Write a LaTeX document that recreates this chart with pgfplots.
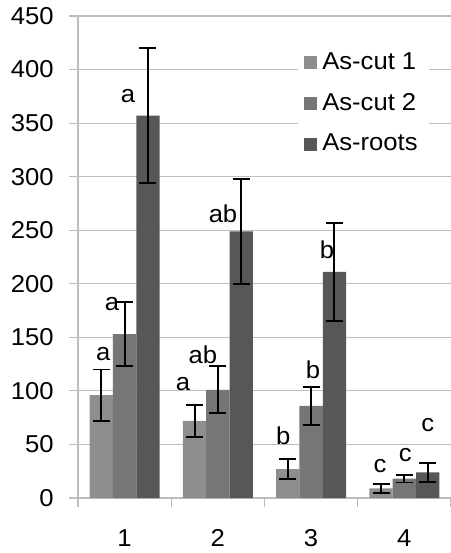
\documentclass[border=0pt]{standalone}
\usepackage{fontspec}
\setmainfont[FakeStretch=1.05]{Liberation Sans}
\usepackage{pgfplots}
\pgfplotsset{compat=1.18}
\usepackage{pgfplotstable}
\definecolor{cA}{HTML}{8E8E8E}
\definecolor{cB}{HTML}{767676}
\definecolor{cC}{HTML}{575757}
\definecolor{gridc}{HTML}{BDBDBD}
\pgfplotstableread{
x y e
1 96 24
2 72 15
3 27 9
4 9 4
}\cutA
\pgfplotstableread{
x y e
1 153 30
2 101 22
3 86 18
4 18 3.5
}\cutB
\pgfplotstableread{
x y e
1 357 63
2 249 49
3 211 46
4 24 9
}\roots
\begin{document}
\fontsize{24.5}{29}\selectfont
\begin{tikzpicture}[font=\fontsize{24.5}{29}\selectfont]
\begin{axis}[
  scale only axis,
  width=373bp, height=482bp,
  xmin=0.5, xmax=4.5, ymin=0, ymax=450,
  ytick={0,50,...,450},
  xtick={0.5,1.5,2.5,3.5,4.5}, xticklabels={},
  extra x ticks={1,2,3,4}, extra x tick labels={1,2,3,4},
  extra x tick style={major tick length=0pt, tick label style={yshift=-23bp}},
  major tick length=9bp, tick align=outside,
  tick style={gridc, line width=1.2bp},
  axis x line*=bottom, axis y line*=left,
  axis line style={gridc, line width=1.2bp},
  ymajorgrids, major grid style={gridc, line width=1.2bp},
  yticklabel style={xshift=-7bp},
  tick label style={font=\fontsize{24.5}{29}\selectfont},
  /pgf/number format/assume math mode=true,
  ybar=0pt, bar width=0.25,
  legend style={at={(rel axis cs:0.59,0.945)}, anchor=north west, draw=none, fill=white,
    row sep=16bp, inner xsep=6bp, inner ysep=8bp, font=\fontsize{24.5}{29}\selectfont,
    nodes={inner xsep=5bp}},
  legend cell align=left,
  legend image code/.code={\fill[#1] (0bp,-6.5bp) rectangle (13bp,6.5bp);},
  error bars/y dir=both, error bars/y explicit,
  error bars/error bar style={black, line width=1.9bp},
  error bars/error mark options={rotate=90, mark size=8.5bp, line width=1.9bp, black},
]
\addplot[fill=cA, draw=none] table[x=x, y=y, y error=e] {\cutA};
\addplot[fill=cB, draw=none] table[x=x, y=y, y error=e] {\cutB};
\addplot[fill=cC, draw=none] table[x=x, y=y, y error=e] {\roots};
\legend{As-cut 1, As-cut 2, As-roots}
\node at (axis cs:0.77,134) {a};
\node at (axis cs:0.865,181) {a};
\node at (axis cs:1.035,375) {a};
\node at (axis cs:1.626,106) {a};
\node at (axis cs:1.84,134) {ab};
\node at (axis cs:2.055,265) {ab};
\node at (axis cs:2.70,58) {b};
\node at (axis cs:3.02,120) {b};
\node at (axis cs:3.17,232) {b};
\node at (axis cs:3.74,30) {c};
\node at (axis cs:4.01,40) {c};
\node at (axis cs:4.25,68) {c};
\end{axis}
\pgfresetboundingbox
\path ([shift={(-78bp,-55bp)}]current axis.south west) rectangle ([shift={(0bp,16bp)}]current axis.north east);
\end{tikzpicture}
\end{document}
